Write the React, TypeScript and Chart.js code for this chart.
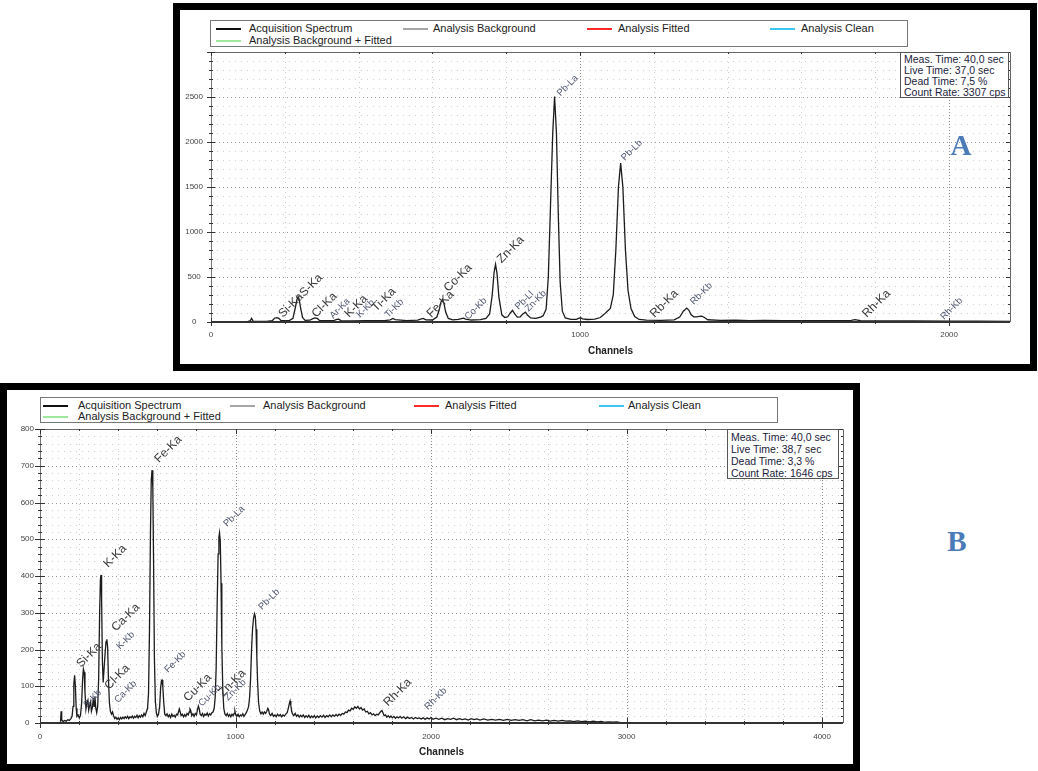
import { useEffect, useRef } from "react";
import { Chart, registerables } from "chart.js";

Chart.register(...registerables);

const FONT = "'Liberation Sans', Arial, sans-serif";

// ---------------- Panel A data ----------------
const channelsA = [0, 60, 100, 106, 110, 114, 150, 166, 172, 178, 184, 190, 212, 222, 228, 233, 236, 239, 243, 248, 255, 268, 276, 282, 288, 294, 315, 334, 341, 346, 352, 380, 420, 470, 486, 493, 499, 530, 560, 568, 575, 582, 600, 612, 618, 623, 627, 631, 636, 643, 655, 670, 679, 684, 690, 705, 730, 745, 755, 762, 767, 771, 775, 780, 788, 796, 804, 811, 817, 823, 830, 838, 845, 852, 858, 866, 880, 893, 900, 908, 914, 920, 926, 931, 936, 941, 946, 952, 960, 975, 990, 996, 1001, 1007, 1020, 1040, 1055, 1065, 1074, 1082, 1090, 1097, 1104, 1110, 1116, 1123, 1130, 1138, 1148, 1160, 1180, 1220, 1255, 1270, 1280, 1289, 1295, 1301, 1308, 1316, 1323, 1330, 1337, 1346, 1380, 1420, 1460, 1500, 1550, 1600, 1650, 1700, 1735, 1745, 1752, 1760, 1820, 1900, 2000, 2080, 2165];
const countsA = [4, 5, 6, 12, 40, 10, 8, 14, 42, 48, 40, 14, 16, 40, 150, 250, 280, 250, 150, 50, 18, 20, 38, 46, 40, 18, 14, 18, 30, 32, 16, 12, 14, 16, 24, 40, 26, 16, 20, 32, 40, 24, 22, 55, 130, 220, 250, 210, 110, 40, 24, 28, 38, 42, 32, 22, 26, 40, 90, 300, 550, 640, 540, 280, 80, 50, 58, 100, 130, 90, 55, 58, 90, 110, 75, 45, 40, 55, 70, 140, 500, 1300, 2100, 2505, 2100, 1200, 450, 120, 45, 30, 30, 40, 48, 35, 28, 32, 50, 85, 120, 150, 300, 800, 1500, 1765, 1500, 800, 350, 150, 60, 28, 20, 18, 24, 55, 120, 155, 130, 80, 58, 58, 62, 64, 50, 25, 18, 20, 16, 18, 15, 16, 14, 15, 18, 26, 22, 14, 12, 11, 10, 9, 8];
const xTickLabelsA = [0, 1000, 2000];
const yTickLabelsA = [0, 500, 1000, 1500, 2000, 2500];
const peakNamesA = ["Si-Ka", "S-Ka", "Cl-Ka", "Ar-Ka", "K-Ka", "K-Kb", "Ti-Ka", "Ti-Kb", "Fe-Ka", "Co-Ka", "Co-Kb", "Zn-Ka", "Pb-Ll", "Zn-Kb", "Pb-La", "Pb-Lb", "Rb-Ka", "Rb-Kb", "Rh-Ka", "Rh-Kb"];
const peakChA = [195, 252, 285, 331, 374, 404, 448, 480, 597, 643, 697, 787, 833, 860, 947, 1121, 1202, 1308, 1777, 1986];
const peakCountA = [44, 276, 44, 33, 44, 44, 110, 44, 44, 331, 22, 651, 132, 110, 2505, 1788, 44, 188, 44, 22];
const peakSmallA = [false, false, false, true, false, true, false, true, false, false, true, false, true, true, true, true, false, true, false, true];
const infoA = ["Meas. Time: 40,0 sec", "Live Time: 37,0 sec", "Dead Time: 7,5 %", "Count Rate: 3307 cps"];

// ---------------- Panel B data ----------------
const channelsB = [105, 108, 111, 118, 126, 134, 142, 150, 158, 164, 169, 173, 177, 181, 185, 189, 195, 201, 207, 213, 218, 222, 226, 230, 235, 240, 245, 249, 254, 259, 263, 268, 273, 277, 281, 285, 290, 295, 300, 305, 309, 312, 315, 319, 323, 328, 333, 338, 342, 346, 350, 355, 360, 366, 371, 376, 382, 388, 394, 400, 406, 412, 418, 424, 430, 436, 442, 448, 454, 460, 466, 472, 478, 484, 490, 496, 502, 508, 514, 520, 526, 532, 538, 544, 550, 555, 560, 565, 569, 573, 577, 581, 585, 590, 595, 600, 606, 612, 617, 621, 624, 628, 633, 638, 644, 650, 656, 662, 668, 674, 680, 686, 692, 698, 704, 709, 713, 717, 722, 728, 734, 740, 746, 752, 758, 763, 767, 771, 776, 782, 788, 794, 800, 805, 810, 814, 819, 825, 831, 837, 843, 849, 855, 861, 867, 873, 879, 885, 891, 896, 901, 906, 911, 915, 918, 922, 926, 930, 935, 940, 946, 952, 958, 964, 970, 976, 982, 988, 993, 997, 1001, 1007, 1013, 1019, 1025, 1031, 1037, 1043, 1049, 1055, 1061, 1067, 1072, 1077, 1082, 1087, 1092, 1097, 1101, 1105, 1109, 1113, 1118, 1124, 1130, 1136, 1142, 1148, 1154, 1160, 1165, 1169, 1174, 1180, 1187, 1194, 1201, 1208, 1215, 1222, 1229, 1236, 1243, 1250, 1257, 1264, 1270, 1275, 1279, 1283, 1287, 1292, 1298, 1305, 1312, 1319, 1326, 1333, 1340, 1347, 1354, 1361, 1368, 1375, 1382, 1389, 1396, 1403, 1410, 1418, 1426, 1434, 1442, 1450, 1458, 1466, 1474, 1482, 1490, 1498, 1506, 1514, 1522, 1530, 1538, 1546, 1554, 1562, 1570, 1578, 1586, 1594, 1602, 1610, 1618, 1626, 1634, 1642, 1650, 1658, 1666, 1674, 1682, 1690, 1698, 1706, 1714, 1722, 1730, 1738, 1744, 1749, 1754, 1760, 1767, 1774, 1781, 1788, 1795, 1802, 1810, 1818, 1826, 1834, 1842, 1850, 1860, 1870, 1880, 1890, 1900, 1910, 1920, 1930, 1940, 1950, 1960, 1970, 1980, 1990, 2000, 2010, 2025, 2040, 2055, 2070, 2085, 2100, 2115, 2130, 2145, 2160, 2175, 2190, 2205, 2220, 2235, 2250, 2270, 2290, 2310, 2330, 2350, 2370, 2390, 2410, 2430, 2450, 2470, 2490, 2510, 2530, 2550, 2570, 2590, 2610, 2630, 2650, 2670, 2690, 2710, 2730, 2750, 2770, 2790, 2810, 2830, 2850, 2870, 2890, 2910, 2930, 2950, 2970, 3000, 3050, 4096];
const countsB = [3, 32, 8, 4, 7, 5, 9, 7, 12, 18, 45, 105, 130, 100, 40, 18, 22, 14, 20, 55, 120, 147, 138, 85, 38, 55, 62, 35, 48, 58, 32, 42, 68, 45, 72, 42, 28, 45, 120, 300, 390, 403, 340, 170, 110, 150, 190, 222, 228, 205, 120, 55, 32, 24, 30, 20, 12, 16, 10, 14, 9, 15, 11, 16, 12, 17, 13, 18, 12, 17, 14, 19, 13, 18, 15, 21, 14, 20, 16, 22, 17, 26, 20, 30, 40, 80, 250, 520, 660, 688, 640, 430, 180, 60, 28, 18, 24, 45, 95, 115, 117, 100, 55, 24, 20, 25, 17, 22, 15, 24, 18, 21, 16, 24, 22, 32, 38, 30, 20, 24, 17, 23, 18, 26, 22, 30, 38, 34, 20, 25, 18, 26, 22, 35, 46, 40, 24, 20, 26, 18, 24, 21, 27, 19, 25, 22, 28, 30, 40, 70, 150, 320, 460, 505, 517, 495, 380, 210, 90, 40, 24, 20, 26, 18, 23, 17, 24, 20, 26, 32, 22, 18, 24, 17, 22, 19, 25, 18, 23, 28, 35, 45, 70, 120, 200, 255, 285, 297, 290, 255, 180, 110, 55, 32, 25, 30, 24, 30, 26, 32, 40, 36, 24, 20, 26, 18, 22, 17, 24, 19, 23, 17, 22, 19, 24, 28, 40, 52, 60, 48, 32, 24, 20, 26, 18, 22, 16, 21, 17, 22, 15, 20, 16, 21, 14, 19, 15, 20, 14, 19, 15, 20, 16, 21, 15, 20, 17, 22, 17, 22, 18, 23, 19, 24, 21, 26, 24, 30, 28, 35, 33, 40, 37, 44, 40, 45, 38, 42, 35, 38, 30, 32, 25, 28, 22, 25, 20, 24, 22, 28, 32, 34, 28, 20, 22, 16, 20, 15, 19, 14, 18, 13, 17, 14, 18, 13, 17, 12, 16, 12, 15, 11, 15, 12, 14, 11, 14, 10, 14, 11, 15, 10, 13, 10, 13, 9, 12, 10, 13, 9, 12, 9, 11, 8, 12, 9, 11, 8, 11, 8, 10, 8, 10, 7, 10, 7, 9, 7, 9, 6, 9, 6, 8, 6, 8, 5, 7, 5, 7, 5, 6, 4, 6, 4, 5, 3, 5, 3, 4, 2, 3, 2, 3, 1, 1, 0, 0];
const xTickLabelsB = [0, 1000, 2000, 3000, 4000];
const yTickLabelsB = [0, 100, 200, 300, 400, 500, 600, 700, 800];
const peakNamesB = ["Fe-Ka", "K-Ka", "Ca-Ka", "K-Kb", "Si-Ka", "S-Kb", "Cl-Ka", "Ca-Kb", "Fe-Kb", "Cu-Ka", "Cu-Kb", "Zn-Ka", "Zn-Kb", "Pb-La", "Pb-Lb", "Rh-Ka", "Rh-Kb"];
const peakChB = [609, 348, 389, 409, 210, 240, 353, 399, 655, 757, 829, 936, 962, 957, 1136, 1780, 1985];
const peakCountB = [707, 422, 248, 199, 150, 41, 90, 54, 136, 57, 44, 71, 60, 533, 307, 44, 35];
const peakSmallB = [false, false, false, true, false, true, false, true, true, false, true, false, true, true, true, false, true];
const infoB = ["Meas. Time: 40,0 sec", "Live Time: 38,7 sec", "Dead Time: 3,3 %", "Count Rate: 1646 cps"];

// ---------------- Legend ----------------
const legendNames = ["Acquisition Spectrum", "Analysis Background", "Analysis Fitted", "Analysis Clean", "Analysis Background + Fitted"];
const legendColors = ["#111111", "#a6a6a6", "#ff2a2a", "#3cc6f0", "#9ee89e"];

type PanelCfg = {
  channels: number[];
  counts: number[];
  names: string[];
  peakCh: number[];
  peakCount: number[];
  small: boolean[];
  xLabels: number[];
  yLabels: number[];
  xMax: number;
  yMax: number;
  xMinor: number;
  xMajor: number;
  yMinor: number;
  yMajor: number;
  left: number;
  top: number;
  width: number;
  height: number;
  padTop: number;
  padRight: number;
  yWidth: number;
  xHeight: number;
  yLabelPad: number;
  xLabelPad: number;
  titleBottom: number;
  tickMaj: number;
  tickMin: number;
};

function makeDecor(cfg: PanelCfg) {
  return {
    id: "decor",
    beforeDatasetsDraw(chart: any) {
      const { ctx, chartArea: a, scales } = chart;
      const xs = scales.x;
      const ys = scales.y;
      ctx.save();
      ctx.lineWidth = 1;
      for (let i = 1; i * cfg.yMinor < cfg.yMax; i++) {
        const v = i * cfg.yMinor;
        const major = v % cfg.yMajor === 0;
        const py = Math.round(ys.getPixelForValue(v)) + 0.5;
        ctx.strokeStyle = major ? "#9a9a9a" : "#cfcfcf";
        ctx.setLineDash(major ? [1, 3] : [1, 5]);
        ctx.beginPath();
        ctx.moveTo(a.left, py);
        ctx.lineTo(a.right, py);
        ctx.stroke();
      }
      for (let i = 1; i * cfg.xMinor < cfg.xMax; i++) {
        const v = i * cfg.xMinor;
        const major = v % cfg.xMajor === 0;
        const px = Math.round(xs.getPixelForValue(v)) + 0.5;
        ctx.strokeStyle = major ? "#8a8a8a" : "#cdcdcd";
        ctx.setLineDash(major ? [1, 2] : [1, 4]);
        ctx.beginPath();
        ctx.moveTo(px, a.top);
        ctx.lineTo(px, a.bottom);
        ctx.stroke();
      }
      ctx.restore();
    },
    afterDatasetsDraw(chart: any) {
      const { ctx, chartArea: a, scales } = chart;
      const xs = scales.x;
      const ys = scales.y;
      ctx.save();
      ctx.setLineDash([]);
      ctx.strokeStyle = "#666";
      ctx.lineWidth = 1;
      ctx.beginPath();
      ctx.moveTo(Math.round(a.left) + 0.5, Math.round(a.top) + 0.5);
      ctx.lineTo(Math.round(a.right) + 0.5, Math.round(a.top) + 0.5);
      ctx.lineTo(Math.round(a.right) + 0.5, Math.round(a.bottom));
      ctx.stroke();
      ctx.strokeStyle = "#777";
      ctx.beginPath();
      ctx.moveTo(Math.round(a.left) + 0.5, a.top);
      ctx.lineTo(Math.round(a.left) + 0.5, a.bottom);
      ctx.stroke();
      ctx.strokeStyle = "#333";
      ctx.lineWidth = 2;
      ctx.beginPath();
      ctx.moveTo(a.left, Math.round(a.bottom));
      ctx.lineTo(a.right, Math.round(a.bottom));
      ctx.stroke();
      ctx.lineWidth = 1;
      ctx.strokeStyle = "#333";
      ctx.beginPath();
      for (let i = 0; i * cfg.xMinor <= cfg.xMax; i++) {
        const v = i * cfg.xMinor;
        const major = v % cfg.xMajor === 0;
        const px = Math.round(xs.getPixelForValue(v)) + 0.5;
        const l = major ? cfg.tickMaj : cfg.tickMin;
        ctx.moveTo(px, a.bottom - l);
        ctx.lineTo(px, a.bottom + l);
        ctx.moveTo(px, a.top);
        ctx.lineTo(px, a.top + l);
      }
      for (let i = 0; i * cfg.yMinor <= cfg.yMax; i++) {
        const v = i * cfg.yMinor;
        const major = v % cfg.yMajor === 0;
        const py = Math.round(ys.getPixelForValue(v)) + 0.5;
        const l = major ? cfg.tickMaj : cfg.tickMin;
        ctx.moveTo(a.left - l, py);
        ctx.lineTo(a.left + (major ? l : 2), py);
        ctx.moveTo(a.right, py);
        ctx.lineTo(a.right - l, py);
      }
      ctx.stroke();
      for (let i = 0; i < cfg.names.length; i++) {
        const px = xs.getPixelForValue(cfg.peakCh[i]);
        const py = ys.getPixelForValue(cfg.peakCount[i]);
        ctx.save();
        ctx.translate(px, py);
        ctx.rotate(-Math.PI / 4);
        ctx.font = cfg.small[i] ? `9.5px ${FONT}` : `12px ${FONT}`;
        ctx.fillStyle = cfg.small[i] ? "#4f5670" : "#383838";
        ctx.textAlign = "left";
        ctx.textBaseline = "alphabetic";
        ctx.fillText(cfg.names[i], 0, 0);
        ctx.restore();
      }
      ctx.restore();
    },
  };
}

function SpectrumChart({ cfg }: { cfg: PanelCfg }) {
  const ref = useRef<HTMLCanvasElement>(null);
  useEffect(() => {
    const points = cfg.channels.map((c, i) => ({ x: c, y: cfg.counts[i] }));
    const chart = new Chart(ref.current as HTMLCanvasElement, {
      type: "line",
      data: {
        datasets: [
          {
            label: legendNames[0],
            data: points,
            borderColor: "#1c1c1c",
            borderWidth: 1.3,
            pointRadius: 0,
            tension: 0,
            fill: false,
          },
        ],
      },
      options: {
        animation: false,
        responsive: false,
        maintainAspectRatio: false,
        events: [],
        layout: { padding: { left: 0, right: cfg.padRight, top: cfg.padTop, bottom: 0 } },
        plugins: { legend: { display: false }, tooltip: { enabled: false } },
        scales: {
          x: {
            type: "linear",
            min: 0,
            max: cfg.xMax,
            grid: { display: false, drawTicks: false },
            border: { display: false },
            afterBuildTicks: (s: any) => {
              s.ticks = cfg.xLabels.map((v) => ({ value: v }));
            },
            ticks: {
              autoSkip: false,
              maxRotation: 0,
              padding: cfg.xLabelPad,
              color: "#444",
              font: { family: FONT, size: 8 },
              callback: (v: any) => String(v),
            },
            title: {
              display: true,
              text: "Channels",
              color: "#222",
              font: { family: FONT, size: 10, weight: "bold" },
              padding: { top: 0, bottom: cfg.titleBottom },
            },
            afterFit: (s: any) => {
              s.height = cfg.xHeight;
            },
          },
          y: {
            type: "linear",
            min: 0,
            max: cfg.yMax,
            grid: { display: false, drawTicks: false },
            border: { display: false },
            afterBuildTicks: (s: any) => {
              s.ticks = cfg.yLabels.map((v) => ({ value: v }));
            },
            ticks: {
              autoSkip: false,
              padding: cfg.yLabelPad,
              crossAlign: "center",
              color: "#444",
              font: { family: FONT, size: 8 },
              callback: (v: any) => String(v),
            },
            afterFit: (s: any) => {
              s.width = cfg.yWidth;
            },
          },
        },
      } as any,
      plugins: [makeDecor(cfg)],
    });
    return () => chart.destroy();
  }, []);
  return (
    <canvas
      ref={ref}
      width={cfg.width}
      height={cfg.height}
      style={{ position: "absolute", left: cfg.left, top: cfg.top, width: cfg.width, height: cfg.height }}
    />
  );
}

function LegendBox(props: {
  left: number;
  top: number;
  width: number;
  height: number;
  sampleX: number[];
  textX: number[];
  row1: number;
  row2: number;
}) {
  const items = legendNames.map((name, i) => {
    const col = i < 4 ? i : 0;
    const rowY = i < 4 ? props.row1 : props.row2;
    return (
      <div key={name}>
        <div
          style={{
            position: "absolute",
            left: props.sampleX[col] - props.left,
            top: rowY - props.top - 1,
            width: 25,
            height: 2,
            background: legendColors[i],
          }}
        />
        <div
          style={{
            position: "absolute",
            left: props.textX[col] - props.left,
            top: rowY - props.top - 7,
            fontSize: 11,
            lineHeight: "13px",
            color: "#222",
            whiteSpace: "nowrap",
            fontFamily: FONT,
          }}
        >
          {name}
        </div>
      </div>
    );
  });
  return (
    <div
      style={{
        position: "absolute",
        left: props.left,
        top: props.top,
        width: props.width,
        height: props.height,
        border: "1px solid #777",
        boxSizing: "border-box",
        background: "#fff",
      }}
    >
      {items}
    </div>
  );
}

function InfoBox(props: { left: number; top: number; width: number; height: number; lines: string[]; lh: number }) {
  return (
    <div
      style={{
        position: "absolute",
        left: props.left,
        top: props.top,
        width: props.width,
        height: props.height,
        border: "1px solid #555",
        boxSizing: "border-box",
        background: "#fff",
        padding: "1px 0 0 3px",
        fontFamily: FONT,
        fontSize: 10.5,
        lineHeight: `${props.lh}px`,
        color: "#1c1c3c",
        whiteSpace: "nowrap",
      }}
    >
      {props.lines.map((t) => (
        <div key={t}>{t}</div>
      ))}
    </div>
  );
}

const cfgA: PanelCfg = {
  channels: channelsA,
  counts: countsA,
  names: peakNamesA,
  peakCh: peakChA,
  peakCount: peakCountA,
  small: peakSmallA,
  xLabels: xTickLabelsA,
  yLabels: yTickLabelsA,
  xMax: 2165,
  yMax: 3000,
  xMinor: 200,
  xMajor: 1000,
  yMinor: 100,
  yMajor: 500,
  left: 180,
  top: 10,
  width: 850,
  height: 354,
  padTop: 42,
  padRight: 20,
  yWidth: 31,
  xHeight: 42,
  yLabelPad: 8,
  xLabelPad: 8,
  titleBottom: 7,
  tickMaj: 4,
  tickMin: 2,
};

const cfgB: PanelCfg = {
  channels: channelsB,
  counts: countsB,
  names: peakNamesB,
  peakCh: peakChB,
  peakCount: peakCountB,
  small: peakSmallB,
  xLabels: xTickLabelsB,
  yLabels: yTickLabelsB,
  xMax: 4107,
  yMax: 800,
  xMinor: 200,
  xMajor: 1000,
  yMinor: 20,
  yMajor: 100,
  left: 7,
  top: 390,
  width: 846,
  height: 374,
  padTop: 39,
  padRight: 10,
  yWidth: 33,
  xHeight: 41,
  yLabelPad: 6,
  xLabelPad: 9,
  titleBottom: 6,
  tickMaj: 5,
  tickMin: 2,
};

export default function App() {
  return (
    <div
      style={{
        position: "absolute",
        left: 0,
        top: 0,
        width: 1038,
        height: 771,
        background: "#fff",
        overflow: "hidden",
        fontFamily: FONT,
      }}
    >
      <div
        style={{
          position: "absolute",
          left: 173,
          top: 3,
          width: 864,
          height: 368,
          border: "7px solid #000",
          boxSizing: "border-box",
          background: "#fff",
        }}
      />
      <SpectrumChart cfg={cfgA} />
      <LegendBox left={210} top={20} width={698} height={27} sampleX={[215, 402, 586, 769]} textX={[248, 432, 617, 800]} row1={28} row2={40} />
      <InfoBox left={900} top={52} width={109} height={46} lines={infoA} lh={11} />

      <div
        style={{
          position: "absolute",
          left: 0,
          top: 383,
          width: 860,
          height: 388,
          border: "7px solid #000",
          boxSizing: "border-box",
          background: "#fff",
        }}
      />
      <SpectrumChart cfg={cfgB} />
      <LegendBox left={40} top={397} width={738} height={26} sampleX={[42, 229, 413, 598]} textX={[77, 262, 444, 627]} row1={405} row2={416} />
      <InfoBox left={727} top={429} width={112} height={50} lines={infoB} lh={12} />

      <div
        style={{
          position: "absolute",
          left: 944,
          top: 128,
          width: 34,
          textAlign: "center",
          fontFamily: "'Liberation Serif', 'Times New Roman', serif",
          fontWeight: "bold",
          fontSize: 29,
          lineHeight: "34px",
          color: "#4a7ab8",
        }}
      >
        A
      </div>
      <div
        style={{
          position: "absolute",
          left: 940,
          top: 524,
          width: 34,
          textAlign: "center",
          fontFamily: "'Liberation Serif', 'Times New Roman', serif",
          fontWeight: "bold",
          fontSize: 29,
          lineHeight: "34px",
          color: "#4a7ab8",
        }}
      >
        B
      </div>
    </div>
  );
}
